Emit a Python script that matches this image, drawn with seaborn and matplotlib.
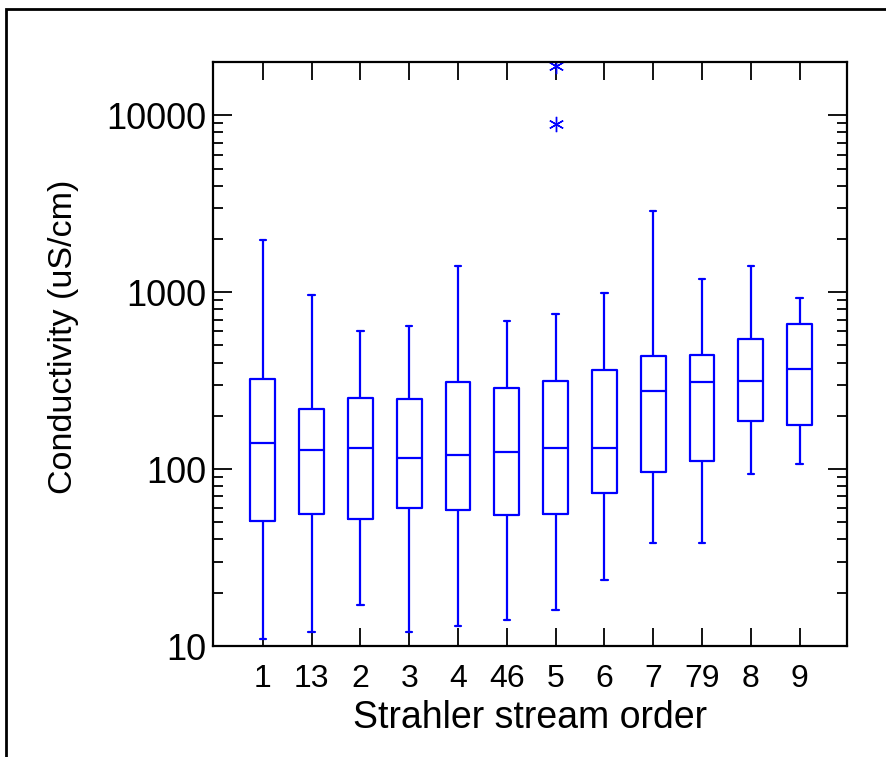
import numpy as np
import pandas as pd
import matplotlib
matplotlib.use("Agg")
import matplotlib.pyplot as plt
import seaborn as sns
from matplotlib.patches import Rectangle
from matplotlib.ticker import LogLocator, FuncFormatter, NullFormatter

# ---- data (five-number summaries) ----
orders = ['1', '13', '2', '3', '4', '46', '5', '6', '7', '79', '8', '9']
lows    = [11, 12, 17, 12, 13, 14, 16, 23.5, 38, 38, 94, 107]
q1s     = [51, 56, 52, 60, 59, 55, 56, 73, 96, 111, 187, 177]
medians = [140, 128, 131, 115, 120, 125, 131, 131, 276, 310, 314, 367]
q3s     = [322, 218, 252, 249, 310, 287, 314, 362, 435, 440, 542, 659]
highs   = [1970, 961, 602, 643, 1400, 686, 751, 987, 2870, 1184, 1403, 925]
outliers = {'5': [8900, 18900]}

# build a small table whose quartiles reproduce the summaries
rows = []
for i, o in enumerate(orders):
    if o in outliers:
        vals = ([lows[i]] + [q1s[i]] * 3 + [medians[i]] * 3 + [q3s[i]] * 3
                + [highs[i]] + outliers[o])
    else:
        vals = [lows[i], q1s[i], medians[i], q3s[i], highs[i]]
    rows += [(o, v) for v in vals]
df = pd.DataFrame(rows, columns=['order', 'cond'])

sns.set_style("ticks")
plt.rcParams['font.family'] = ['Liberation Sans', 'DejaVu Sans']
plt.rcParams['text.color'] = 'black'
plt.rcParams['axes.labelcolor'] = 'black'
plt.rcParams['xtick.color'] = 'black'
plt.rcParams['ytick.color'] = 'black'

fig = plt.figure(figsize=(8.86, 7.57), dpi=100)
ax = fig.add_axes([213/886, 1 - 646/757, (847-213)/886, (646-62)/757])

sns.boxplot(data=df, x='order', y='cond', order=orders, log_scale=True,
            fill=False, color='#0000FF', width=0.51, linewidth=1.6,
            flierprops=dict(marker=(6, 2, 0), markersize=11,
                            markeredgecolor='#0000FF', markeredgewidth=1.0),
            ax=ax)

# narrow whisker caps
for ln in ax.lines:
    x = np.asarray(ln.get_xdata(), dtype=float)
    y = np.asarray(ln.get_ydata(), dtype=float)
    if len(x) == 2 and y[0] == y[1] and abs(abs(x[1] - x[0]) - 0.255) < 0.01:
        c = x.mean()
        ln.set_xdata([c - 0.065, c + 0.065])

ax.set_yscale('log')
ax.set_ylim(10, 20000)
ax.set_xlim(-1.02, 11.97)
ax.yaxis.set_major_locator(LogLocator(base=10, numticks=10))
ax.yaxis.set_minor_locator(LogLocator(base=10, subs=np.arange(2, 10), numticks=20))
ax.yaxis.set_major_formatter(FuncFormatter(lambda v, p: f"{int(round(v))}"))
ax.yaxis.set_minor_formatter(NullFormatter())

for s in ax.spines.values():
    s.set_visible(True)
    s.set_linewidth(1.6)
    s.set_color('black')

ax.tick_params(axis='both', which='both', direction='in', top=True, right=True,
               color='black', labelcolor='black', width=1.3)
ax.tick_params(axis='y', which='major', length=14, labelsize=26, pad=5)
ax.tick_params(axis='y', which='minor', length=7.5)
ax.tick_params(axis='x', which='major', length=13, labelsize=23, pad=13)
ax.tick_params(axis='x', which='minor', length=0)

ax.set_xlabel('Strahler stream order', fontsize=27, labelpad=4)
ax.set_ylabel('Conductivity (uS/cm)', fontsize=24.5)
ax.yaxis.set_label_coords(-0.212, 0.53)

fig.add_artist(Rectangle((6/886, -0.05), 1.2, 1 - 9/757 + 0.05,
                         transform=fig.transFigure, fill=False,
                         lw=2, ec='black'))

fig.savefig('out.png', dpi=100)
